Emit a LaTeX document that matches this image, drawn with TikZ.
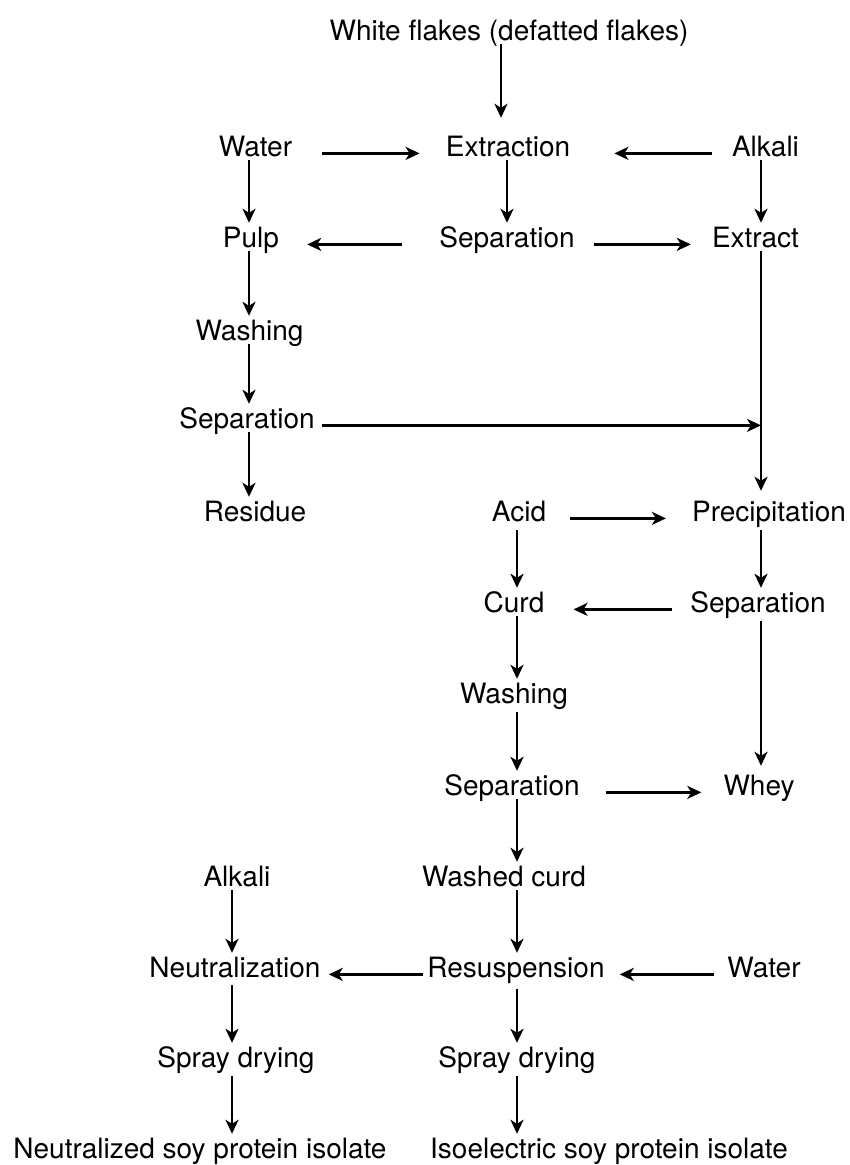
\documentclass[tikz,border=0pt]{standalone}
\usepackage{fontspec}
\setmainfont{TeX Gyre Heros}
\usetikzlibrary{arrows.meta,calc}
\begin{document}
\begin{tikzpicture}[x=1pt,y=-1pt,
  lbl/.style={anchor=base, inner xsep=0pt, inner ysep=4pt, text height=20pt, text depth=0pt, font=\fontsize{28}{30}\selectfont},
  arr/.style={line width=2.9pt, -{Stealth[length=14pt,width=13pt,inset=4pt]}}]
\useasboundingbox (0,0) rectangle (849,1165);
% columns
\coordinate (cT) at (501,0);
\coordinate (cE) at (507,0);
\coordinate (cL1) at (249,0);
\coordinate (cL2) at (232,0);
\coordinate (cC) at (517,0);
\coordinate (cR) at (761,0);
% nodes
\node[lbl] (white) at (509,40) {White flakes (defatted flakes)};
\node[lbl] (water1) at (255.5,156) {Water};
\node[lbl] (extraction) at (508,156) {Extraction};
\node[lbl] (alkali1) at (765.5,156) {Alkali};
\node[lbl] (pulp) at (251,247) {Pulp};
\node[lbl] (sep1) at (507,247) {Separation};
\node[lbl] (extract) at (755.5,247) {Extract};
\node[lbl] (wash1) at (249.5,340) {Washing};
\node[lbl] (sep2) at (247,428) {Separation};
\node[lbl] (residue) at (255,521) {Residue};
\node[lbl] (acid) at (519,521) {Acid};
\node[lbl] (precip) at (769,521) {Precipitation};
\node[lbl] (curd) at (514,612) {Curd};
\node[lbl] (sep3) at (758,612) {Separation};
\node[lbl] (wash2) at (514,703) {Washing};
\node[lbl] (sep4) at (512,795) {Separation};
\node[lbl] (whey) at (759,795) {Whey};
\node[lbl] (alkali2) at (237,886) {Alkali};
\node[lbl] (washed) at (504,886) {Washed curd};
\node[lbl] (neutral) at (235,977) {Neutralization};
\node[lbl] (resusp) at (516,977) {Resuspension};
\node[lbl] (water2) at (764,977) {Water};
\node[lbl] (spray1) at (236,1067) {Spray drying};
\node[lbl] (spray2) at (517,1067) {Spray drying};
\node[lbl] (final1) at (200,1158) {Neutralized soy protein isolate};
\node[lbl] (final2) at (609,1158) {Isoelectric soy protein isolate};
% vertical connectors
\draw[arr, shorten >=14pt] (white.south -| cT) -- (extraction.north -| cT);
\draw[arr] (water1.south -| cL1) -- (pulp.north -| cL1);
\draw[arr] (extraction.south -| cE) -- (sep1.north -| cE);
\draw[arr] (alkali1.south -| cR) -- (extract.north -| cR);
\draw[arr] (pulp.south -| cL1) -- (wash1.north -| cL1);
\draw[arr] (wash1.south -| cL1) -- (sep2.north -| cL1);
\draw[arr] (sep2.south -| cL1) -- (residue.north -| cL1);
\draw[arr, shorten >=6pt] (extract.south -| cR) -- (precip.north -| cR);
\draw[arr, shorten <=5pt] (acid.south -| cC) -- (curd.north -| cC);
\draw[arr, shorten <=5pt] (precip.south -| cR) -- (sep3.north -| cR);
\draw[arr, shorten <=5pt, shorten >=5pt] (sep3.south -| cR) -- (whey.north -| cR);
\draw[arr] (curd.south -| cC) -- (wash2.north -| cC);
\draw[arr, shorten <=5pt] (wash2.south -| cC) -- (sep4.north -| cC);
\draw[arr] (sep4.south -| cC) -- (washed.north -| cC);
\draw[arr] (alkali2.south -| cL2) -- (neutral.north -| cL2);
\draw[arr] (washed.south -| cC) -- (resusp.north -| cC);
\draw[arr, shorten <=4pt] (neutral.south -| cL2) -- (spray1.north -| cL2);
\draw[arr, shorten <=8pt] (resusp.south -| cC) -- (spray2.north -| cC);
\draw[arr, shorten <=5pt] (spray1.south -| cL2) -- (final1.north -| cL2);
\draw[arr, shorten <=5pt] (spray2.south -| cC) -- (final2.north -| cC);
% horizontal connectors
\draw[arr, shorten <=30pt, shorten >=26pt] (water1.mid east) -- (extraction.mid west);
\draw[arr, shorten <=20pt, shorten >=44pt] (alkali1.mid west) -- (extraction.mid east);
\draw[arr, shorten <=37pt, shorten >=28pt] (sep1.mid west) -- (pulp.mid east);
\draw[arr, shorten <=19pt, shorten >=21pt] (sep1.mid east) -- (extract.mid west);
\coordinate (join) at (sep2.mid east -| cR);
\draw[arr, shorten <=7pt] (sep2.mid east) -- (join);
\draw[arr, shorten <=24pt, shorten >=26pt] (acid.mid east) -- (precip.mid west);
\draw[arr, shorten <=18pt, shorten >=29pt] (sep3.mid west) -- (curd.mid east);
\draw[arr, shorten <=26pt, shorten >=22pt] (sep4.mid east) -- (whey.mid west);
\draw[arr, shorten <=4pt, shorten >=8pt] (resusp.mid west) -- (neutral.mid east);
\draw[arr, shorten <=13pt, shorten >=15pt] (water2.mid west) -- (resusp.mid east);
\end{tikzpicture}
\end{document}
